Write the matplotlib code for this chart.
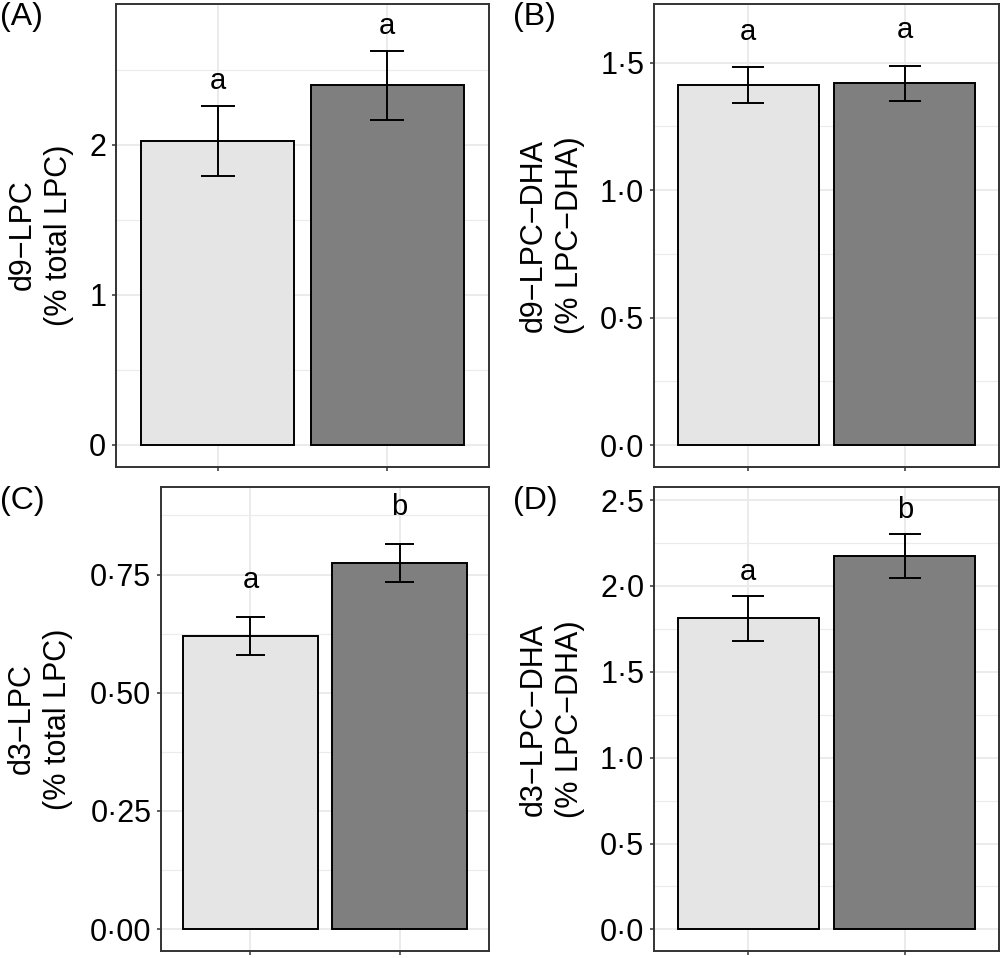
import matplotlib
matplotlib.use('Agg')
import matplotlib.pyplot as plt
import numpy as np

plt.rcParams['font.family'] = ['Liberation Sans', 'DejaVu Sans']

# values (mean, s.e.), two groups per panel
groups = [1, 2]
mean_a = [2.027, 2.398]
se_a = [0.234, 0.229]
mean_b = [1.411, 1.419]
se_b = [0.071, 0.068]
mean_c = [0.620, 0.774]
se_c = [0.040, 0.040]
mean_d = [1.811, 2.174]
se_d = [0.133, 0.129]

letters_a = ['a', 'a']
letters_b = ['a', 'a']
letters_c = ['a', 'b']
letters_d = ['a', 'b']

ticks_a = [0, 1, 2]
ticks_b = [0.0, 0.5, 1.0, 1.5]
ticks_c = [0.0, 0.25, 0.5, 0.75]
ticks_d = [0.0, 0.5, 1.0, 1.5, 2.0, 2.5]

ylab_a = 'd9\u2212LPC\n(% total LPC)'
ylab_b = 'd9\u2212LPC\u2212DHA\n(% LPC\u2212DHA)'
ylab_c = 'd3\u2212LPC\n(% total LPC)'
ylab_d = 'd3\u2212LPC\u2212DHA\n(% LPC\u2212DHA)'

bar_cols = ['#E5E5E5', '#7F7F7F']
W, H = 1004, 958


def box(x0, y0, x1, y1):
    return [x0 / W, 1 - y1 / H, (x1 - x0) / W, (y1 - y0) / H]


def panel(ax, mean, se, letters, ticks, ndec, ylim, lab_off):
    mean = np.array(mean)
    se = np.array(se)
    ax.set_facecolor('white')
    # grid, ggplot-like
    minor = np.array(ticks[:-1]) + (ticks[1] - ticks[0]) / 2
    if ylim[1] > ticks[-1] + (ticks[1] - ticks[0]) / 2:
        minor = np.append(minor, ticks[-1] + (ticks[1] - ticks[0]) / 2)
    for m in minor:
        ax.axhline(m, color='#EBEBEB', lw=0.8, zorder=0)
    for t in ticks:
        ax.axhline(t, color='#EBEBEB', lw=1.4, zorder=0)
    for g in groups:
        ax.axvline(g, color='#EBEBEB', lw=1.4, zorder=0)
    ax.bar(groups, mean, width=0.9, color=bar_cols, edgecolor='black',
           linewidth=1.4, zorder=2)
    ax.vlines(groups, mean - se, mean + se, color='black', lw=1.4, zorder=3)
    for y in (mean - se, mean + se):
        ax.hlines(y, np.array(groups) - 0.1, np.array(groups) + 0.1,
                  color='black', lw=1.4, zorder=3)
    for g, top, s in zip(groups, mean + se, letters):
        ax.text(g, top + lab_off, s, ha='center', va='center', fontsize=21,
                zorder=4)
    ax.set_xlim(0.4, 2.6)
    ax.set_ylim(*ylim)
    ax.set_xticks(groups)
    ax.set_xticklabels(['', ''])
    ax.set_yticks(ticks)
    ax.set_yticklabels([f'{t:.{ndec}f}'.replace('.', '\u00b7') for t in ticks])
    ax.tick_params(length=3, width=1.1, color='#333333', labelsize=22,
                   pad=4, labelcolor='black')
    for sp in ax.spines.values():
        sp.set_color('#333333')
        sp.set_linewidth(1.4)


fig = plt.figure(figsize=(W / 100, H / 100), dpi=100)

ax_a = fig.add_axes(box(116, 4, 489, 467))
panel(ax_a, mean_a, se_a, letters_a, ticks_a, 0, (-0.147, 2.94), 0.165)
ax_b = fig.add_axes(box(654, 4, 999, 467))
panel(ax_b, mean_b, se_b, letters_b, ticks_b, 1, (-0.086, 1.73), 0.14)
ax_c = fig.add_axes(box(161, 487, 489, 951))
panel(ax_c, mean_c, se_c, letters_c, ticks_c, 2, (-0.046, 0.935), 0.078)
ax_d = fig.add_axes(box(654, 487, 999, 951))
panel(ax_d, mean_d, se_d, letters_d, ticks_d, 1, (-0.126, 2.576), 0.138)

for x, y, s in [(41, 235, ylab_a), (552, 235, ylab_b),
                (40, 719, ylab_c), (552, 719, ylab_d)]:
    fig.text(x / W, 1 - y / H, s, rotation=90, ha='center', va='center',
             multialignment='center', fontsize=22, linespacing=1.3)

for x, y, s in [(0, 2, '(A)'), (513, 2, '(B)'), (0, 486, '(C)'), (513, 486, '(D)')]:
    fig.text(x / W, 1 - y / H, s, ha='left', va='top', fontsize=23)

fig.savefig('out.png', dpi=100)
